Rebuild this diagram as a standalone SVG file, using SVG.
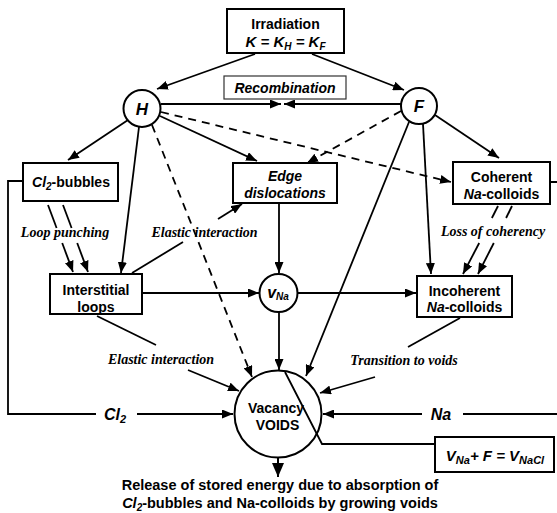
<svg xmlns="http://www.w3.org/2000/svg" width="557" height="513" viewBox="0 0 557 513">
<defs>
<marker id="arr" markerUnits="userSpaceOnUse" markerWidth="12" markerHeight="9" refX="11" refY="4.5" orient="auto">
<path d="M0,0 L11,4.5 L0,9 z" fill="#000"/>
</marker>
<marker id="arrBig" markerUnits="userSpaceOnUse" markerWidth="14" markerHeight="12" refX="14" refY="6" orient="auto">
<path d="M0,0 L14,6 L0,12 z" fill="#000"/>
</marker>
<clipPath id="loopsClip"><rect x="50" y="274" width="92" height="40"/></clipPath>
</defs>
<style>
.box{fill:#fff;stroke:#000;stroke-width:2}
.thin{fill:#fff;stroke:#333;stroke-width:1.2}
.circ{fill:#fff;stroke:#000;stroke-width:2}
.t{font-family:"Liberation Sans",Arial,sans-serif;font-weight:bold;font-size:14px;text-anchor:middle;fill:#000}
.ti{font-family:"Liberation Sans",Arial,sans-serif;font-weight:bold;font-style:italic;font-size:14px;text-anchor:middle;fill:#000}
.lab{font-family:"Liberation Serif","Times New Roman",serif;font-weight:bold;font-style:italic;font-size:14px;text-anchor:middle;fill:#000}
.ln{fill:none;stroke:#000;stroke-width:1.8}
.ar{fill:none;stroke:#000;stroke-width:1.8;marker-end:url(#arr)}
.da{fill:none;stroke:#000;stroke-width:1.8;stroke-dasharray:8,6;marker-end:url(#arr)}
</style>

<g id="irradiation">
<rect class="box" x="227" y="9" width="117" height="44"/>
<text class="t" x="285.5" y="29">Irradiation</text>
<text class="ti" x="285.5" y="47" style="font-size:15px">K = K<tspan font-size="10" dy="3">H</tspan><tspan dy="-3"> = K</tspan><tspan font-size="10" dy="3">F</tspan></text>
</g>

<g id="recombination">
<rect class="thin" x="224" y="76" width="122" height="23"/>
<text class="ti" x="285" y="93">Recombination</text>
</g>

<g id="H">
<circle class="circ" cx="142" cy="108.5" r="18.5"/>
<text class="ti" x="142" y="114.5" style="font-size:17px">H</text>
</g>

<g id="F">
<circle class="circ" cx="419" cy="106" r="18"/>
<text class="ti" x="419" y="112" style="font-size:17px">F</text>
</g>

<g id="cl2bubbles">
<rect class="box" x="23" y="163" width="95" height="38"/>
<text class="t" x="71" y="187"><tspan font-style="italic">Cl</tspan><tspan font-style="italic" font-size="10" dy="3">2</tspan><tspan dy="-3">-bubbles</tspan></text>
</g>

<g id="edge">
<rect class="box" x="233" y="163" width="104" height="40"/>
<text class="ti" x="285" y="181">Edge</text>
<text class="ti" x="285" y="198">dislocations</text>
</g>

<g id="coherent">
<rect class="box" x="453" y="162" width="97" height="42"/>
<text class="t" x="501.5" y="182">Coherent</text>
<text class="t" x="501.5" y="199"><tspan font-style="italic">Na</tspan>-colloids</text>
</g>

<g id="loops">
<rect class="box" x="50" y="274" width="92" height="40"/>
<text class="t" x="96" y="295">Interstitial</text>
<text class="t" x="96" y="312" clip-path="url(#loopsClip)">loops</text>
</g>

<g id="incoherent">
<rect class="box" x="417" y="276" width="95" height="41"/>
<text class="t" x="464.5" y="296">Incoherent</text>
<text class="t" x="464.5" y="312"><tspan font-style="italic">Na</tspan>-colloids</text>
</g>

<g id="vNa">
<circle class="circ" cx="278.5" cy="293" r="19"/>
<text class="ti" x="278" y="298" style="font-size:16px">v<tspan font-size="10" dy="2">Na</tspan></text>
</g>

<g id="voids">
<circle class="circ" cx="278" cy="414" r="43.5"/>
<text class="t" x="276" y="413">Vacancy</text>
<text class="t" x="277.5" y="430">VOIDS</text>
</g>

<g id="vnacl">
<rect class="box" x="435" y="437" width="119" height="35"/>
<text class="ti" x="495" y="461" style="font-size:15px">V<tspan font-size="11" dy="3">Na</tspan><tspan dy="-3">+ F = V</tspan><tspan font-size="11" dy="3">NaCl</tspan></text>
</g>

<g id="result">
<text class="t" x="280" y="490" style="font-size:14.5px">Release of stored energy due to absorption of</text>
<text class="t" x="280" y="508" style="font-size:14.5px"><tspan font-style="italic">Cl</tspan><tspan font-style="italic" font-size="10" dy="3">2</tspan><tspan dy="-3">-bubbles and Na-colloids by growing voids</tspan></text>
</g>

<g id="connectors">
<line class="ar" x1="255" y1="54" x2="157" y2="89"/>
<line class="ar" x1="312" y1="54" x2="404" y2="90"/>
<line class="ar" x1="161" y1="104" x2="281" y2="104"/>
<line class="ar" x1="401" y1="104" x2="284" y2="104"/>
<line class="ar" x1="128" y1="120" x2="68" y2="160"/>
<line class="ar" x1="139" y1="127" x2="121" y2="273"/>
<line class="da" x1="152" y1="125" x2="252" y2="377"/>
<line class="ar" x1="160" y1="116" x2="257" y2="161"/>
<line class="da" x1="161" y1="112" x2="451" y2="182"/>
<line class="da" x1="401" y1="111" x2="307" y2="163"/>
<line class="ar" x1="435" y1="115" x2="499" y2="158"/>
<line class="ar" x1="423" y1="124" x2="431" y2="274"/>
<line class="ar" x1="409" y1="122" x2="306" y2="376"/>
<line class="ar" x1="279" y1="203" x2="279" y2="273"/>
<line class="ar" x1="142" y1="293" x2="259" y2="293"/>
<line class="ar" x1="298" y1="293" x2="416" y2="293"/>
<line class="ar" x1="279" y1="312" x2="279" y2="370"/>
<line class="ln" x1="48" y1="205" x2="56.6" y2="228"/>
<line class="ar" x1="62.2" y1="243" x2="73" y2="272"/>
<line class="ln" x1="63" y1="205" x2="71.6" y2="228"/>
<line class="ar" x1="77.2" y1="243" x2="88" y2="272"/>
<line class="ln" x1="132" y1="273" x2="183" y2="242"/>
<line class="ar" x1="218" y1="219" x2="242" y2="204"/>
<line class="ln" x1="498" y1="206" x2="491.9" y2="218"/>
<line class="ar" x1="479.2" y1="243" x2="463" y2="274"/>
<line class="ln" x1="512" y1="206" x2="506.1" y2="218"/>
<line class="ar" x1="493.8" y1="243" x2="478" y2="274"/>
<line class="ln" x1="97" y1="316" x2="156" y2="345"/>
<line class="ar" x1="188" y1="370" x2="239" y2="391"/>
<line class="ln" x1="460" y1="318" x2="408" y2="347"/>
<line class="ar" x1="375" y1="377" x2="320" y2="393"/>
<path class="ln" d="M23,181 H8 V414 H96"/>
<line class="ar" x1="137" y1="414" x2="233" y2="414"/>
<path class="ln" d="M550,182 H560 V414 H463"/>
<line class="ar" x1="422" y1="414" x2="323" y2="414"/>
<path class="ln" d="M285,372 L322,444 H435"/>
<line x1="278" y1="457" x2="278" y2="477" stroke="#000" stroke-width="2" marker-end="url(#arrBig)"/>
</g>

<g id="labels">
<text class="lab" x="65" y="237">Loop punching</text>
<text class="lab" x="204.5" y="237">Elastic interaction</text>
<text class="lab" x="493" y="236">Loss of coherency</text>
<text class="lab" x="161" y="364">Elastic interaction</text>
<text class="lab" x="404" y="365">Transition to voids</text>
<text class="ti" x="115" y="420" style="font-size:16px">Cl<tspan font-size="11" dy="3">2</tspan></text>
<text class="ti" x="441" y="420" style="font-size:16px">Na</text>
</g>
</svg>
